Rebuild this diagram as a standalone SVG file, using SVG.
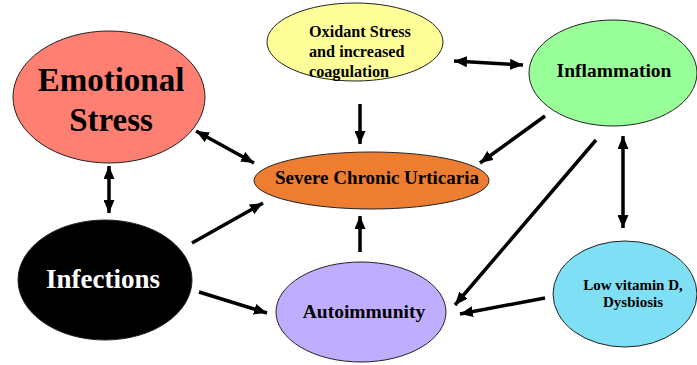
<svg xmlns="http://www.w3.org/2000/svg" width="697" height="365" viewBox="0 0 697 365">
<style>
.n{stroke:#222;stroke-width:1}
.t{font-weight:bold;fill:#000}
.c line{stroke:#000;stroke-width:3.5}
</style>
<defs>
<marker id="a" markerUnits="userSpaceOnUse" markerWidth="13" markerHeight="11" refX="13" refY="5.5" orient="auto-start-reverse" viewBox="0 0 13 11">
<path d="M0,0 L13,5.5 L0,11 z" fill="#000"/>
</marker>
</defs>
<rect width="697" height="365" fill="#fff"/>
<g class="c" id="connectors">
<line x1="109" y1="166" x2="109" y2="213" marker-start="url(#a)" marker-end="url(#a)"/>
<line x1="196" y1="131" x2="254" y2="163" marker-start="url(#a)" marker-end="url(#a)"/>
<line x1="360" y1="104" x2="360" y2="144" marker-end="url(#a)"/>
<line x1="454" y1="61" x2="523" y2="65" marker-start="url(#a)" marker-end="url(#a)"/>
<line x1="545" y1="116" x2="480" y2="163" marker-end="url(#a)"/>
<line x1="192" y1="243" x2="263" y2="203" marker-end="url(#a)"/>
<line x1="360" y1="252" x2="360" y2="216" marker-end="url(#a)"/>
<line x1="596" y1="140" x2="455" y2="305" marker-end="url(#a)"/>
<line x1="623" y1="136" x2="623" y2="228" marker-start="url(#a)" marker-end="url(#a)"/>
<line x1="545" y1="298" x2="460" y2="314" marker-end="url(#a)"/>
<line x1="199" y1="292" x2="267" y2="313" marker-end="url(#a)"/>
</g>
<g font-family="Liberation Serif, DejaVu Serif, serif">
<g id="emotional">
<ellipse class="n" cx="109" cy="97" rx="96" ry="66" fill="#FF7F72"/>
<text class="t" x="111" y="91" font-size="33" text-anchor="middle">Emotional</text>
<text class="t" x="111" y="131" font-size="33" text-anchor="middle">Stress</text>
</g>
<g id="oxidant">
<ellipse class="n" cx="355" cy="42" rx="88" ry="39" fill="#FFFF99"/>
<text class="t" x="309" y="37" font-size="16.2">Oxidant Stress</text>
<text class="t" x="309" y="57" font-size="16.2">and increased</text>
<text class="t" x="309" y="77" font-size="16.2">coagulation</text>
</g>
<g id="inflammation">
<ellipse class="n" cx="613" cy="73" rx="84" ry="53" fill="#99FF99"/>
<text class="t" x="614" y="77" font-size="19.5" text-anchor="middle">Inflammation</text>
</g>
<g id="severe">
<ellipse class="n" cx="371.5" cy="180.5" rx="117.5" ry="28.5" fill="#ED7D31"/>
<text class="t" x="377" y="184" font-size="19" text-anchor="middle">Severe Chronic Urticaria</text>
</g>
<g id="infections">
<ellipse class="n" cx="105" cy="280" rx="87" ry="60" fill="#000"/>
<text class="t" x="103" y="288" font-size="27" text-anchor="middle" style="fill:#fff">Infections</text>
</g>
<g id="autoimmunity">
<ellipse class="n" cx="361" cy="312" rx="85" ry="50" fill="#BFAEFF"/>
<text class="t" x="364" y="318" font-size="19.5" text-anchor="middle">Autoimmunity</text>
</g>
<g id="lowvitd">
<ellipse class="n" cx="625" cy="294" rx="72" ry="53" fill="#7FDFF5"/>
<text class="t" x="633" y="290" font-size="15" text-anchor="middle">Low vitamin D,</text>
<text class="t" x="633" y="307" font-size="15" text-anchor="middle">Dysbiosis</text>
</g>
</g>
</svg>
